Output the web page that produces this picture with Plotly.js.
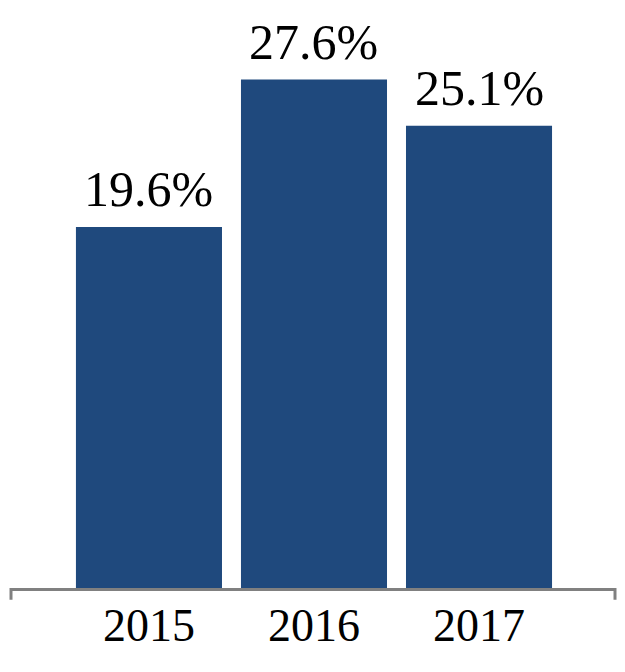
<!DOCTYPE html>
<html>
<head>
<meta charset="utf-8">
<script src="https://cdn.plot.ly/plotly-3.0.1.min.js"></script>
<style>html,body{margin:0;padding:0;background:#fff;}#chart{width:625px;height:672px;}</style>
</head>
<body>
<div id="chart"></div>
<script>
const categories = ['2015', '2016', '2017'];
const values = [19.6, 27.6, 25.1];
const labels = ['19.6%', '27.6%', '25.1%'];

const FONT = 'Liberation Serif, Times New Roman, serif';

const trace = {
  type: 'bar',
  x: categories,
  y: values,
  marker: {color: '#1F497D'},
  hoverinfo: 'none'
};

const annotations = [];
for (let i = 0; i < categories.length; i++) {
  annotations.push({
    x: i, y: values[i], xref: 'x', yref: 'y',
    text: labels[i], showarrow: false,
    yanchor: 'bottom', xanchor: 'center',
    yshift: 8,
    font: {family: FONT, size: 50, color: '#000000'}
  });
}

const layout = {
  width: 625, height: 672,
  margin: {l: 11, r: 10, t: 0, b: 84},
  paper_bgcolor: '#fff', plot_bgcolor: '#fff',
  bargap: 0.115,
  showlegend: false,
  font: {family: FONT},
  xaxis: {
    type: 'category',
    range: [-0.836, 2.824],
    showline: true, linecolor: '#808080', linewidth: 3,
    ticks: '', showgrid: false, zeroline: false,
    ticklabelstandoff: -5,
    tickfont: {family: FONT, size: 46, color: '#000'}
  },
  yaxis: {
    range: [0, 31.92],
    showticklabels: false, showline: false, ticks: '', showgrid: false, zeroline: false
  },
  annotations: annotations,
  shapes: [
    {type: 'line', xref: 'paper', yref: 'paper', x0: 0, x1: 0, y0: 0, y1: -0.02, line: {color: '#808080', width: 3}},
    {type: 'line', xref: 'paper', yref: 'paper', x0: 1, x1: 1, y0: 0, y1: -0.02, line: {color: '#808080', width: 3}}
  ]
};

Plotly.newPlot('chart', [trace], layout, {displayModeBar: false, staticPlot: true});
</script>
</body>
</html>
